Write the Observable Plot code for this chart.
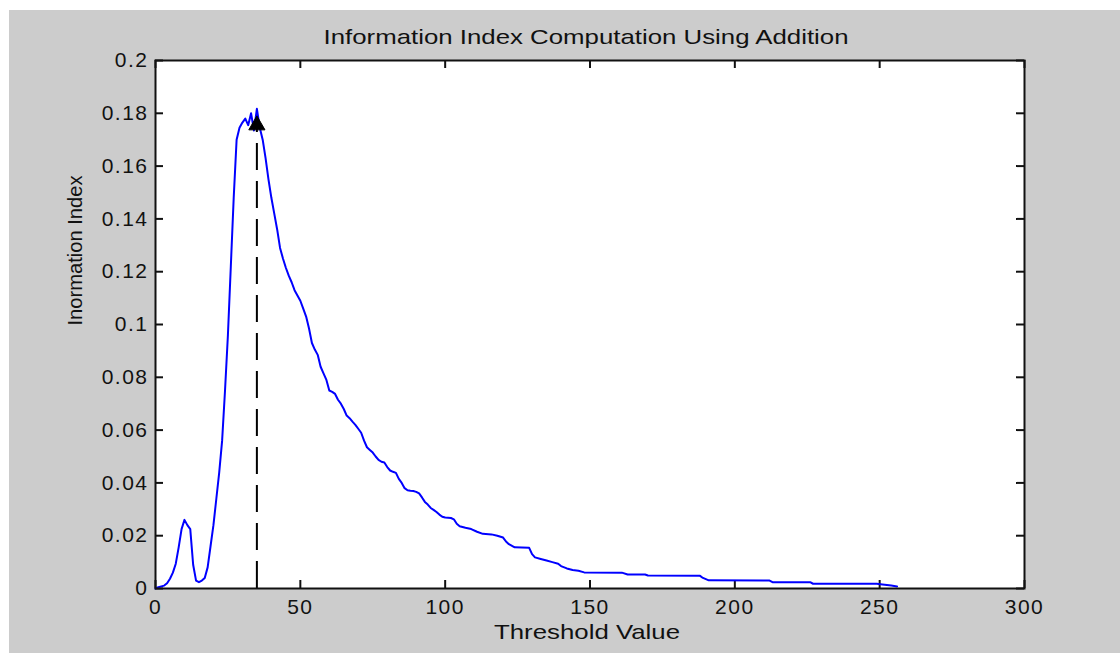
<!DOCTYPE html>
<html>
<head>
<meta charset="utf-8">
<script src="https://cdn.jsdelivr.net/npm/d3@7"></script>
<script src="https://cdn.jsdelivr.net/npm/@observablehq/plot@0.6"></script>
<style>
  html, body { margin: 0; padding: 0; background: #ffffff; }
  #chart { position: absolute; left: 9px; top: 10px; }
</style>
</head>
<body>
<div id="chart"></div>
<script>
// Threshold values and the information index computed at each of them
const threshold = [
  0, 1, 2, 3, 4, 5, 6, 7, 8, 9, 10, 11, 12, 13, 14, 15, 16, 17, 18, 19,
  20, 21, 22, 23, 24, 25, 26, 27, 28, 29, 30, 31, 32, 33, 34, 35, 36, 37, 38, 39,
  40, 41, 42, 43, 44, 45, 46, 47, 48, 49, 50, 51, 52, 53, 54, 55, 56, 57, 58, 59,
  60, 61, 62, 63, 64, 65, 66, 67, 68, 69, 70, 71, 72, 73, 74, 75, 76, 77, 78, 79,
  80, 81, 82, 83, 84, 85, 86, 87, 88, 89, 90, 91, 92, 93, 94, 95, 96, 97, 98, 99,
  100, 102, 103, 104, 105, 107, 109, 111, 113, 116, 118, 120, 121, 122, 124, 129,
  130, 131, 133, 135, 137, 139, 140, 142, 144, 146, 148, 161, 163, 169, 170, 188,
  189, 191, 212, 213, 226, 227, 249, 251, 254, 256
];
const infoIndex = [
  0.0000, 0.0005, 0.0008, 0.0011, 0.0020, 0.0037, 0.0060, 0.0094, 0.0156, 0.0225,
  0.0260, 0.0240, 0.0225, 0.0090, 0.0030, 0.0024, 0.0030, 0.0040, 0.0080, 0.0160,
  0.0240, 0.0340, 0.0440, 0.0560, 0.0750, 0.0960, 0.1220, 0.1480, 0.1700, 0.1745,
  0.1765, 0.1780, 0.1755, 0.1800, 0.1735, 0.1817, 0.1745, 0.1700, 0.1630, 0.1550,
  0.1480, 0.1420, 0.1360, 0.1290, 0.1250, 0.1215, 0.1185, 0.1160, 0.1130, 0.1110,
  0.1090, 0.1060, 0.1030, 0.0985, 0.0930, 0.0905, 0.0885, 0.0840, 0.0815, 0.0790,
  0.0750, 0.0745, 0.0737, 0.0715, 0.0700, 0.0680, 0.0655, 0.0645, 0.0632, 0.0620,
  0.0605, 0.0590, 0.0560, 0.0535, 0.0525, 0.0515, 0.0500, 0.0487, 0.0480, 0.0477,
  0.0460, 0.0447, 0.0442, 0.0438, 0.0415, 0.0400, 0.0380, 0.0372, 0.0370, 0.0369,
  0.0366, 0.0360, 0.0345, 0.0328, 0.0318, 0.0305, 0.0298, 0.0290, 0.0280, 0.0272,
  0.0269, 0.0267, 0.0262, 0.0245, 0.0236, 0.0230, 0.0225, 0.0215, 0.0207, 0.0205,
  0.0200, 0.0193, 0.0178, 0.0168, 0.0156, 0.0154,
  0.0130, 0.0118, 0.0112, 0.0106, 0.0100, 0.0094, 0.0085, 0.0076, 0.0070, 0.0067,
  0.0061, 0.0060, 0.0053, 0.0053, 0.0049, 0.0048,
  0.0040, 0.0031, 0.0030, 0.0024, 0.0024, 0.0018, 0.0018, 0.0015, 0.0011, 0.0008
];

// Selected threshold, marked with a triangle and a dashed drop line
const bestThreshold = 35;
const bestIndex = 0.1755;

const xTicks = [0, 50, 100, 150, 200, 250, 300];
const yTicks = [0, 0.02, 0.04, 0.06, 0.08, 0.1, 0.12, 0.14, 0.16, 0.18, 0.2];

const titleText = "Information Index Computation Using Addition";
const xLabel = "Threshold Value";
const yLabel = "Inormation Index";

const series = threshold.map((t, i) => ({t, v: infoIndex[i]}));
const selected = [{t: bestThreshold, v: bestIndex}];

const W = 1111, H = 643;
const mL = 146, mR = 96, mT = 50, mB = 65;
const frameW = W - mL - mR, frameH = H - mT - mB;
const tickLen = 8;
const ink = "#111111";

const fmtY = d => String(+d.toFixed(2));

const chart = Plot.plot({
  width: W,
  height: H,
  marginLeft: mL,
  marginRight: mR,
  marginTop: mT,
  marginBottom: mB,
  style: {
    background: "#cccccc",
    fontFamily: "'Liberation Sans', Arial, sans-serif",
    color: ink,
    overflow: "visible"
  },
  x: {domain: [0, 300], label: null},
  y: {domain: [0, 0.2], label: null},
  marks: [
    Plot.frame({fill: "white"}),
    // inward tick marks on all four sides of the box
    Plot.tickX(xTicks, {x: d => d, insetTop: frameH - tickLen, stroke: ink, strokeWidth: 2}),
    Plot.tickX(xTicks, {x: d => d, insetBottom: frameH - tickLen, stroke: ink, strokeWidth: 2}),
    Plot.tickY(yTicks, {y: d => d, insetRight: frameW - tickLen, stroke: ink, strokeWidth: 2}),
    Plot.tickY(yTicks, {y: d => d, insetLeft: frameW - tickLen, stroke: ink, strokeWidth: 2}),
    // tick labels
    Plot.axisX({ticks: xTicks, tickSize: 0, tickPadding: 11, fontSize: 21, tickFormat: d => String(d), label: null}),
    Plot.axisY({ticks: yTicks, tickSize: 0, tickPadding: 7, fontSize: 21, tickFormat: fmtY, label: null}),
    // the index curve
    Plot.line(series, {x: "t", y: "v", stroke: "#0000ff", strokeWidth: 2}),
    // dashed drop line and marker at the chosen threshold
    Plot.ruleX(selected, {x: "t", y1: 0, y2: "v", stroke: "#000000", strokeWidth: 2, strokeDasharray: "27,11"}),
    Plot.dot(selected, {x: "t", y: "v", symbol: "triangle", r: 6, fill: "#000000", stroke: "#000000", strokeWidth: 1}),
    Plot.frame({stroke: ink, strokeWidth: 2}),
    // titles
    Plot.text([titleText], {frameAnchor: "top", lineAnchor: "middle", dx: -4, dy: -23, fontSize: 21, fill: ink}),
    Plot.text([xLabel], {frameAnchor: "bottom", lineAnchor: "middle", dx: -3, dy: 44, fontSize: 21, fill: ink}),
    Plot.text([yLabel], {frameAnchor: "left", lineAnchor: "middle", dx: -80, dy: 1, rotate: -90, fontSize: 20, fill: ink})
  ]
});

// widen the tick labels and titles to the figure's stretched lettering
chart.querySelectorAll("text").forEach(t => {
  const s = t.textContent;
  if (s === titleText) { t.setAttribute("textLength", 525); t.setAttribute("lengthAdjust", "spacingAndGlyphs"); }
  else if (s === xLabel) { t.setAttribute("textLength", 186); t.setAttribute("lengthAdjust", "spacingAndGlyphs"); }
  else if (s === yLabel) { t.setAttribute("textLength", 150); t.setAttribute("lengthAdjust", "spacingAndGlyphs"); }
});
chart.querySelectorAll('[aria-label="x-axis tick label"] text, [aria-label="y-axis tick label"] text')
  .forEach(t => t.style.letterSpacing = "1.5px");

document.getElementById("chart").appendChild(chart);
</script>
</body>
</html>
